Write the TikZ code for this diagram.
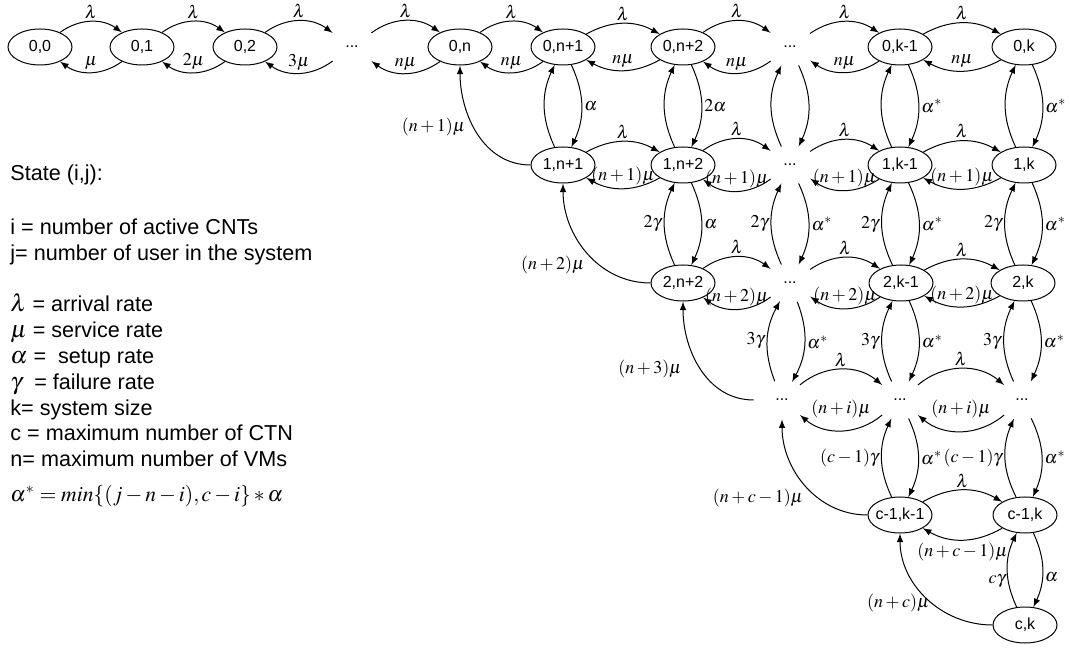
\documentclass[tikz,border=0pt]{standalone}
\usepackage{mathptmx}
\usepackage[no-math]{fontspec}
\setmainfont{Liberation Sans}
\usetikzlibrary{shapes.geometric}

\begin{document}
\begin{tikzpicture}[x=0.5pt, y=0.5pt,
    state/.style={ellipse, draw, line width=0.5pt, minimum width=32pt, minimum height=18pt, inner xsep=-2pt, inner ysep=0pt, font=\fontsize{8}{9.6}\selectfont},
    dots/.style={ellipse, minimum width=28pt, minimum height=19pt, inner sep=0pt, font=\fontsize{8}{9.6}\selectfont},
    trans/.style={draw, -latex, line width=0.5pt, font=\fontsize{9}{10}\selectfont, every node/.style={inner sep=1.2pt}}]
    \useasboundingbox (0,0) rectangle (1070,-651);
    % Place nodes
    \node [state] (s00) at (40,-47) {0,0};
    \node [state] (s01) at (142,-47) {0,1};
    \node [state] (s02) at (245,-47) {0,2};
    \node [dots] (dA) at (352,-47) {...};
    \node [state] (s0n) at (460,-47) {0,n};
    \node [state] (s0n1) at (563,-47) {0,n+1};
    \node [state] (s0n2) at (683,-47) {0,n+2};
    \node [dots] (d0) at (790,-47) {...};
    \node [state] (s0k1) at (900,-47) {0,k-1};
    \node [state] (s0k) at (1024,-47) {0,k};
    \node [state] (s1n1) at (563,-165) {1,n+1};
    \node [state] (s1n2) at (683,-165) {1,n+2};
    \node [dots] (d1) at (790,-165) {...};
    \node [state] (s1k1) at (900,-165) {1,k-1};
    \node [state] (s1k) at (1024,-165) {1,k};
    \node [state] (s2n2) at (683,-283) {2,n+2};
    \node [dots] (d2) at (790,-283) {...};
    \node [state] (s2k1) at (901,-283) {2,k-1};
    \node [state] (s2k) at (1023,-283) {2,k};
    \node [dots] (d3a) at (782,-400) {...};
    \node [dots] (d3b) at (900,-400) {...};
    \node [dots] (d3c) at (1022,-400) {...};
    \node [state] (sc1k1) at (900,-515) {c-1,k-1};
    \node [state] (sc1k) at (1025,-515) {c-1,k};
    \node [state] (sck) at (1025,-625) {c,k};

    % Legend
    \node [anchor=north west, inner sep=0pt, align=left, font=\fontsize{10.8}{12.9}\selectfont] (legend) at (10,-164) {State (i,j):\\[14.2pt]
        i = number of active CNTs\\
        j= number of user in the system\\[13pt]
        {\large$\lambda$} = arrival rate\\
        {\large$\mu$} = service rate\\
        {\large$\alpha$} = \ setup rate\\
        {\large$\gamma$} \ = failure rate\\
        k= system size\\
        c = maximum number of CTN\\
        n= maximum number of VMs\\[4.5pt]
        {\fontsize{10.8}{12}\selectfont$\alpha^{*} = min\{(j-n-i), c-i\} \ast \alpha$}};

    % Row 0
    \path [trans] (s00) to[bend left=36] node [above] {$\lambda$} (s01);
    \path [trans] (s01) to[bend left=36] node [above] {$\mu$} (s00);
    \path [trans] (s01) to[bend left=36] node [above] {$\lambda$} (s02);
    \path [trans] (s02) to[bend left=36] node [above] {$2\mu$} (s01);
    \path [trans] (s02) to[bend left=36] node [above] {$\lambda$} (dA);
    \path [trans] (dA) to[bend left=36] node [above] {$3\mu$} (s02);
    \path [trans] (dA) to[bend left=36] node [above] {$\lambda$} (s0n);
    \path [trans] (s0n) to[bend left=36] node [above] {$n\mu$} (dA);
    \path [trans] (s0n) to[bend left=36] node [above] {$\lambda$} (s0n1);
    \path [trans] (s0n1) to[bend left=36] node [above] {$n\mu$} (s0n);
    \path [trans] (s0n1) to[bend left=29] node [above] {$\lambda$} (s0n2);
    \path [trans] (s0n2) to[bend left=29] node [above] {$n\mu$} (s0n1);
    \path [trans] (s0n2) to[bend left=36] node [above] {$\lambda$} (d0);
    \path [trans] (d0) to[bend left=36] node [above] {$n\mu$} (s0n2);
    \path [trans] (d0) to[bend left=34] node [above] {$\lambda$} (s0k1);
    \path [trans] (s0k1) to[bend left=34] node [above] {$n\mu$} (d0);
    \path [trans] (s0k1) to[bend left=29] node [above] {$\lambda$} (s0k);
    \path [trans] (s0k) to[bend left=29] node [above] {$n\mu$} (s0k1);

    % Row 0 <-> row 1
    \path [trans] (s1n1) to[bend left=25] (s0n1);
    \path [trans] (s0n1) to[bend left=25] node [right] {$\alpha$} (s1n1);
    \path [trans] (s1n2) to[bend left=25] (s0n2);
    \path [trans] (s0n2) to[bend left=25] node [right] {$2\alpha$} (s1n2);
    \path [trans] (d1) to[bend left=25] (d0);
    \path [trans] (d0) to[bend left=25] (d1);
    \path [trans] (s1k1) to[bend left=25] (s0k1);
    \path [trans] (s0k1) to[bend left=25] node [right] {$\alpha^{*}$} (s1k1);
    \path [trans] (s1k) to[bend left=25] (s0k);
    \path [trans] (s0k) to[bend left=25] node [right] {$\alpha^{*}$} (s1k);

    % Row 1
    \path [trans] (s1n1) to[bend left=29] node [above] {$\lambda$} (s1n2);
    \path [trans] (s1n2) to[bend left=29] node [above] {$(n+1)\mu$} (s1n1);
    \path [trans] (s1n2) to[bend left=36] node [above] {$\lambda$} (d1);
    \path [trans] (d1) to[bend left=36] node [above] {$(n+1)\mu$} (s1n2);
    \path [trans] (d1) to[bend left=34] node [above] {$\lambda$} (s1k1);
    \path [trans] (s1k1) to[bend left=34] node [above] {$(n+1)\mu$} (d1);
    \path [trans] (s1k1) to[bend left=29] node [above] {$\lambda$} (s1k);
    \path [trans] (s1k) to[bend left=29] node [above] {$(n+1)\mu$} (s1k1);

    % Row 1 <-> row 2
    \path [trans] (s2n2) to[bend left=25] node [left] {$2\gamma$} (s1n2);
    \path [trans] (s1n2) to[bend left=25] node [right] {$\alpha$} (s2n2);
    \path [trans] (d2) to[bend left=25] node [left] {$2\gamma$} (d1);
    \path [trans] (d1) to[bend left=25] node [right] {$\alpha^{*}$} (d2);
    \path [trans] (s2k1) to[bend left=25] node [left] {$2\gamma$} (s1k1);
    \path [trans] (s1k1) to[bend left=25] node [right] {$\alpha^{*}$} (s2k1);
    \path [trans] (s2k) to[bend left=25] node [left] {$2\gamma$} (s1k);
    \path [trans] (s1k) to[bend left=25] node [right] {$\alpha^{*}$} (s2k);

    % Row 2
    \path [trans] (s2n2) to[bend left=36] node [above] {$\lambda$} (d2);
    \path [trans] (d2) to[bend left=36] node [above] {$(n+2)\mu$} (s2n2);
    \path [trans] (d2) to[bend left=34] node [above] {$\lambda$} (s2k1);
    \path [trans] (s2k1) to[bend left=34] node [above] {$(n+2)\mu$} (d2);
    \path [trans] (s2k1) to[bend left=29] node [above] {$\lambda$} (s2k);
    \path [trans] (s2k) to[bend left=29] node [above] {$(n+2)\mu$} (s2k1);

    % Row 2 <-> row 3
    \path [trans] (d3a) to[bend left=25] node [left] {$3\gamma$} (d2);
    \path [trans] (d2) to[bend left=25] node [right] {$\alpha^{*}$} (d3a);
    \path [trans] (d3b) to[bend left=25] node [left] {$3\gamma$} (s2k1);
    \path [trans] (s2k1) to[bend left=25] node [right] {$\alpha^{*}$} (d3b);
    \path [trans] (d3c) to[bend left=25] node [left] {$3\gamma$} (s2k);
    \path [trans] (s2k) to[bend left=25] node [right] {$\alpha^{*}$} (d3c);

    % Row 3
    \path [trans] (d3a) to[bend left=40] node [above] {$\lambda$} (d3b);
    \path [trans] (d3b) to[bend left=40] node [above=5pt] {$(n+i)\mu$} (d3a);
    \path [trans] (d3b) to[bend left=40] node [above] {$\lambda$} (d3c);
    \path [trans] (d3c) to[bend left=40] node [above=5pt] {$(n+i)\mu$} (d3b);

    % Row 3 <-> row c-1
    \path [trans] (sc1k1) to[bend left=25] node [left] {$(c-1)\gamma$} (d3b);
    \path [trans] (d3b) to[bend left=25] node [right] {$\alpha^{*}$} (sc1k1);
    \path [trans] (sc1k) to[bend left=25] node [left] {$(c-1)\gamma$} (d3c);
    \path [trans] (d3c) to[bend left=25] node [right] {$\alpha^{*}$} (sc1k);

    % Row c-1 and row c
    \path [trans] (sc1k1) to[bend left=30] node [above] {$\lambda$} (sc1k);
    \path [trans] (sc1k) to[bend left=30] node [below] {$(n+c-1)\mu$} (sc1k1);
    \path [trans] (sck) to[bend left=25] node [left, pos=0.35] {$c\gamma$} (sc1k);
    \path [trans] (sc1k) to[bend left=25] node [right, pos=0.6] {$\alpha$} (sck);

    % Service completions that switch off a CNT
    \path [trans] (s1n1.west) to[out=180, in=-90] node [left=3pt, pos=0.55] {$(n+1)\mu$} (s0n.south);
    \path [trans] (s2n2.west) to[out=180, in=-90] node [below left, pos=0.5] {$(n+2)\mu$} (s1n1.south);
    \path [trans] (d3a.west) to[out=180, in=-90] node [left=8pt, pos=0.5] {$(n+3)\mu$} (s2n2.south);
    \path [trans] (sc1k1.west) to[out=180, in=-90] node [below left, pos=0.5] {$(n+c-1)\mu$} (d3a.south);
    \path [trans] (sck.west) to[out=180, in=-90] node [left, pos=0.45] {$(n+c)\mu$} (sc1k1.south);
\end{tikzpicture}
\end{document}
